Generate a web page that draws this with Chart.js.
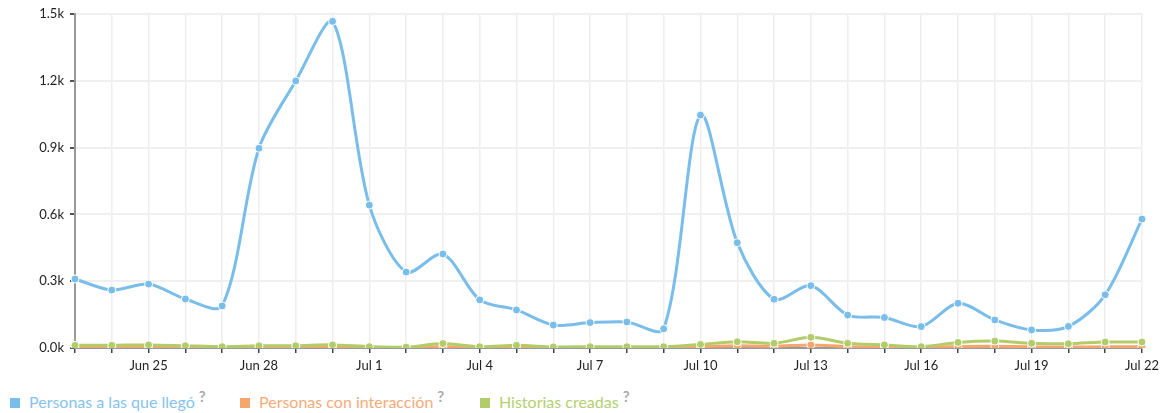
<!DOCTYPE html>
<html>
<head>
<meta charset="utf-8">
<script src="https://cdn.jsdelivr.net/npm/chart.js@4/dist/chart.umd.min.js"></script>
<style>
  html, body { margin: 0; padding: 0; background: #fff; }
  #wrap { position: relative; width: 1164px; height: 413px; }
  #box { position: absolute; left: 0; top: 0; width: 1164px; height: 378px; }
  #legend { position: absolute; left: 10px; top: 392px; font-family: Lato, "Open Sans", sans-serif; font-size: 16px; white-space: nowrap; }
  .item { position: absolute; top: 0; }
  .sw { display: inline-block; width: 10px; height: 10px; margin-right: 9px; vertical-align: 0px; }
  .q { color: #aaa; font-size: 15px; font-weight: bold; position: relative; top: -6px; margin-left: 4px; }
</style>
</head>
<body>
<div id="wrap">
  <div id="box"><canvas id="c"></canvas></div>
  <div id="legend"></div>
</div>
<script>
const categories = ['Jun 23','Jun 24','Jun 25','Jun 26','Jun 27','Jun 28','Jun 29','Jun 30',
  'Jul 1','Jul 2','Jul 3','Jul 4','Jul 5','Jul 6','Jul 7','Jul 8','Jul 9','Jul 10','Jul 11',
  'Jul 12','Jul 13','Jul 14','Jul 15','Jul 16','Jul 17','Jul 18','Jul 19','Jul 20','Jul 21','Jul 22'];
const reached = [310, 260, 287, 220, 189, 897, 1199, 1467, 642, 341, 422, 216, 171, 103, 114, 117,
  86, 1046, 473, 219, 280, 148, 137, 96, 201, 126, 81, 97, 239, 579];
const engaged = [4, 4, 5, 3, 2, 4, 4, 5, 2, 2, 6, 2, 4, 2, 2, 2, 2, 6, 10, 8, 14, 6, 4, 2, 7, 8, 5, 4, 6, 6];
const stories = [12, 12, 14, 10, 6, 10, 10, 14, 6, 4, 20, 6, 12, 5, 6, 6, 6, 16, 28, 21, 48, 21, 14, 6, 25, 31, 21, 19, 27, 27];
const seriesNames = ['Personas a las que llegó', 'Personas con interacción', 'Historias creadas'];
const yTicks = [0, 300, 600, 900, 1200, 1500];

const colors = ['#79bdea', '#f6a56d', '#b1cc68'];
const textColors = ['#86c3ee', '#f7ab78', '#b5cf70'];

function ds(label, data, color, order) {
  return {
    label, data, order,
    borderColor: color, backgroundColor: color,
    borderWidth: 3, tension: 0.3,
    pointRadius: 4, pointBorderColor: '#ffffff', pointBorderWidth: 1,
    pointBackgroundColor: color, fill: false
  };
}

new Chart(document.getElementById('c'), {
  type: 'line',
  data: {
    labels: categories,
    datasets: [
      ds(seriesNames[0], reached, colors[0], 0),
      ds(seriesNames[1], engaged, colors[1], 2),
      ds(seriesNames[2], stories, colors[2], 1)
    ]
  },
  options: {
    responsive: true, maintainAspectRatio: false, animation: false,
    layout: { padding: { top: 14, right: 20, left: 0, bottom: 0 } },
    plugins: { legend: { display: false }, tooltip: { enabled: false } },
    scales: {
      x: {
        offset: false,
        grid: { color: '#eeeeee', lineWidth: 1.5, tickColor: '#444', tickLength: 5, drawOnChartArea: true },
        border: { color: '#999999', width: 2 },
        ticks: {
          autoSkip: false, maxRotation: 0, padding: 5,
          color: '#222', font: { family: 'Lato', size: 13 },
          callback: (v, i) => (i % 3 === 2 ? categories[i] : '')
        },
        afterFit: s => { s.height = 30; }
      },
      y: {
        min: 0, max: 1500,
        afterBuildTicks: s => { s.ticks = yTicks.map(v => ({ value: v })); },
        grid: { color: '#f0f0f0', lineWidth: 2, tickColor: '#555', tickLength: 5 },
        border: { color: '#999999', width: 2 },
        ticks: {
          padding: 6, color: '#222', font: { family: 'Lato', size: 13 },
          callback: v => (v / 1000).toFixed(1) + 'k'
        },
        afterFit: s => { s.width = 75; }
      }
    }
  }
});

const lx = [0, 230, 470];
const lg = document.getElementById('legend');
seriesNames.forEach((n, i) => {
  const d = document.createElement('div');
  d.className = 'item';
  d.style.left = lx[i] + 'px';
  d.innerHTML = '<span class="sw" style="background:' + colors[i] + '"></span>' +
    '<span style="color:' + textColors[i] + '">' + n + '</span><span class="q">?</span>';
  lg.appendChild(d);
});
</script>
</body>
</html>
